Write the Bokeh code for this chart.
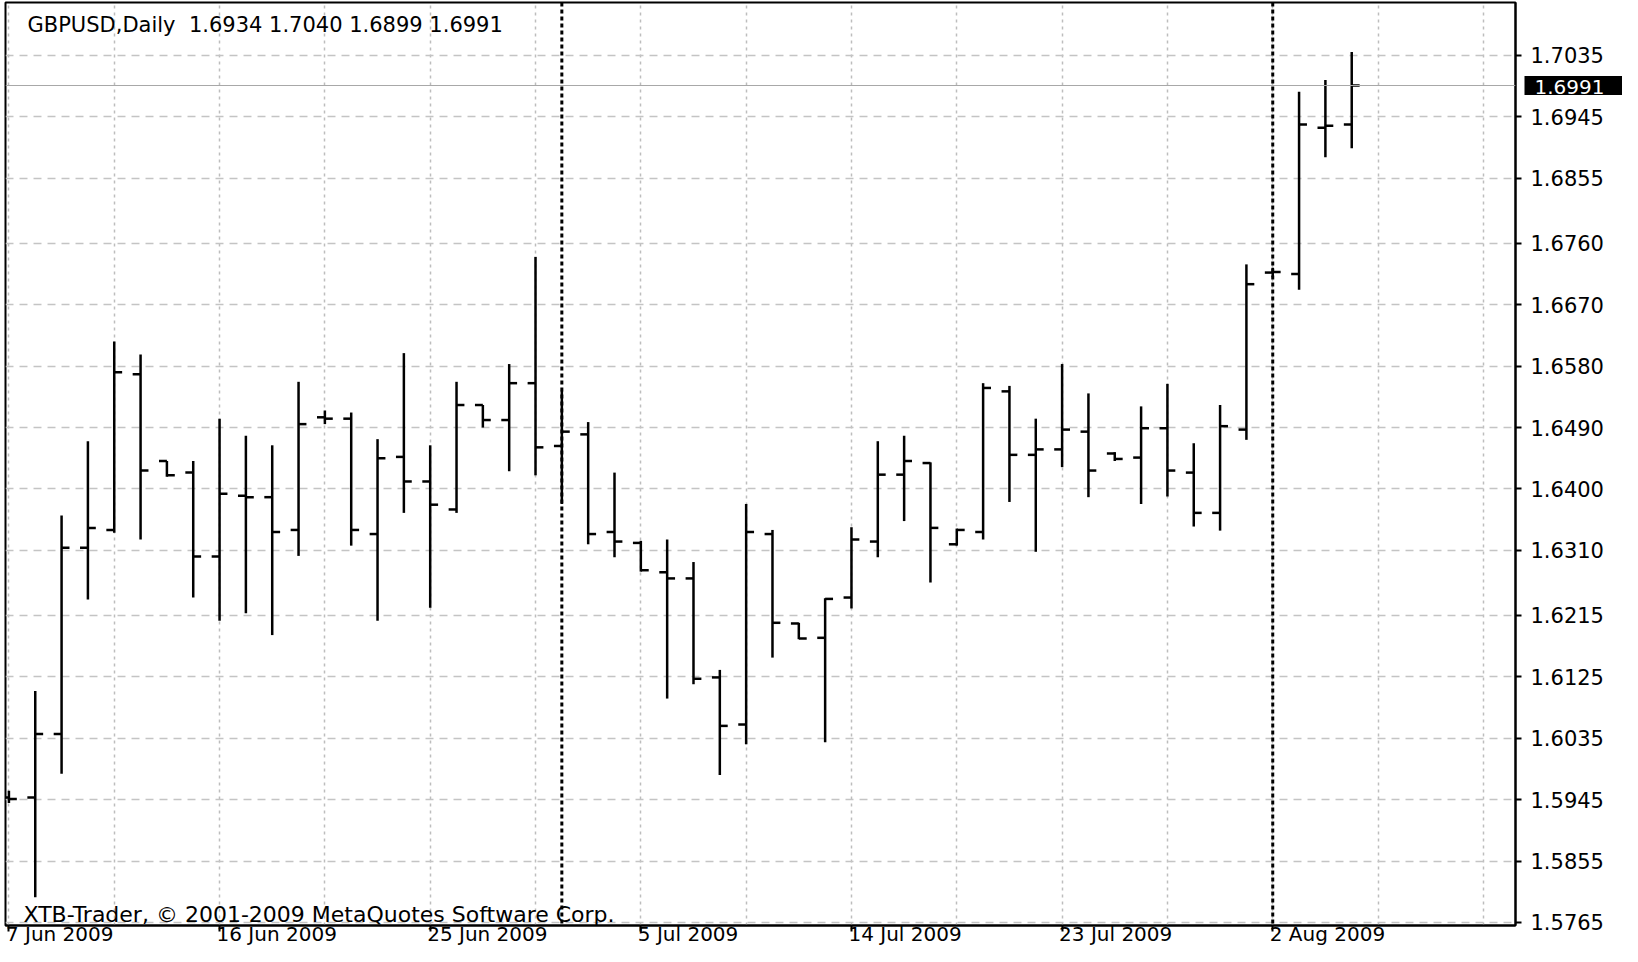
from datetime import date, timedelta

from bokeh.plotting import figure
from bokeh.models import (Range1d, FixedTicker, PrintfTickFormatter, Span, Label,
                          ColumnDataSource, GridBox)
from bokeh.core.properties import value
from bokeh.embed import file_html
from bokeh.resources import INLINE

# ---------------- data ----------------
symbol = "GBPUSD"
timeframe = "Daily"
first_day = date(2009, 6, 7)          # bars are Sunday..Friday (no Saturday)

opens = [1.5948, 1.5948, 1.6041, 1.6314, 1.6340, 1.6568, 1.6441, 1.6424, 1.6301, 1.6390,
         1.6388, 1.6340, 1.6505, 1.6503, 1.6334, 1.6447, 1.6411, 1.6370, 1.6523, 1.6501,
         1.6555, 1.6463, 1.6480, 1.6337, 1.6321, 1.6278, 1.6269, 1.6124, 1.6055, 1.6334,
         1.6203, 1.6182, 1.6241, 1.6323, 1.6421, 1.6438, 1.6319, 1.6337, 1.6543, 1.6450,
         1.6458, 1.6484, 1.6452, 1.6446, 1.6489, 1.6424, 1.6365, 1.6487, 1.6717, 1.6715,
         1.6929, 1.6934]
highs = [1.5958, 1.6104, 1.6361, 1.6470, 1.6616, 1.6597, 1.6441, 1.6441, 1.6503, 1.6478,
         1.6464, 1.6557, 1.6515, 1.6512, 1.6473, 1.6599, 1.6464, 1.6557, 1.6523, 1.6583,
         1.6740, 1.6544, 1.6498, 1.6424, 1.6324, 1.6326, 1.6293, 1.6135, 1.6378, 1.6340,
         1.6204, 1.6240, 1.6344, 1.6470, 1.6478, 1.6439, 1.6342, 1.6555, 1.6551, 1.6503,
         1.6583, 1.6540, 1.6454, 1.6521, 1.6554, 1.6467, 1.6523, 1.6729, 1.6724, 1.6982,
         1.6999, 1.7040]
lows = [1.5940, 1.5802, 1.5983, 1.6238, 1.6336, 1.6326, 1.6418, 1.6241, 1.6207, 1.6218,
        1.6186, 1.6302, 1.6495, 1.6317, 1.6207, 1.6365, 1.6226, 1.6365, 1.6490, 1.6426,
        1.6420, 1.6378, 1.6319, 1.6300, 1.6279, 1.6093, 1.6114, 1.5981, 1.6026, 1.6153,
        1.6180, 1.6029, 1.6225, 1.6300, 1.6353, 1.6263, 1.6317, 1.6326, 1.6381, 1.6308,
        1.6432, 1.6388, 1.6441, 1.6378, 1.6389, 1.6345, 1.6339, 1.6472, 1.6710, 1.6692,
        1.6886, 1.6899]
closes = [1.5946, 1.6041, 1.6314, 1.6343, 1.6571, 1.6427, 1.6420, 1.6301, 1.6393, 1.6388,
          1.6337, 1.6495, 1.6503, 1.6340, 1.6445, 1.6411, 1.6377, 1.6523, 1.6501, 1.6555,
          1.6461, 1.6484, 1.6334, 1.6323, 1.6281, 1.6269, 1.6122, 1.6053, 1.6337, 1.6204,
          1.6181, 1.6239, 1.6326, 1.6421, 1.6441, 1.6343, 1.6340, 1.6548, 1.6450, 1.6458,
          1.6487, 1.6427, 1.6444, 1.6489, 1.6427, 1.6365, 1.6492, 1.6700, 1.6718, 1.6934,
          1.6932, 1.6991]

price_ticks = [1.5765, 1.5855, 1.5945, 1.6035, 1.6125, 1.6215, 1.6310, 1.6400, 1.6490,
               1.6580, 1.6670, 1.6760, 1.6855, 1.6945, 1.7035]
date_label_step = 8
grid_step = 4
copyright_text = "XTB-Trader, \u00a9 2001-2009 MetaQuotes Software Corp."

# trading calendar (Sunday..Friday)
dates = []
d = first_day
while len(dates) < len(opens):
    if d.weekday() != 5:
        dates.append(d)
    d += timedelta(days=1)

n = len(opens)
idx = list(range(n))
date_ticks = list(range(0, n, date_label_step))
date_texts = [f"{dates[i].day} {dates[i].strftime('%b %Y')}" for i in date_ticks]
month_starts = [i for i in range(1, n) if dates[i].month != dates[i - 1].month]

# ---------------- figure ----------------
FONT = "DejaVu Sans"
TICK = 0.3
W, H = 1622, 946
ML, MT, MR, MB = 5, 2, 107, 21
FRAME_W, FRAME_H = W - ML - MR, H - MT - MB
X0, X1 = -0.13, 57.22
Y0, Y1 = 1.57606, 1.71126

p = figure(width=W, height=H, x_range=Range1d(X0, X1), y_range=Range1d(Y0, Y1),
           output_backend="svg", toolbar_location=None, y_axis_location="right",
           min_border_left=ML, min_border_top=MT, min_border_right=MR,
           min_border_bottom=MB, background_fill_color="white",
           border_fill_color="white")
p.frame_align = False
p.outline_line_color = "black"
p.outline_line_width = 2
p.outline_line_alpha = 1.0

# y axis (right)
ya = p.yaxis[0]
ya.ticker = FixedTicker(ticks=price_ticks)
ya.formatter = PrintfTickFormatter(format="%.4f")
ya.major_label_text_font = FONT
ya.major_label_text_font_size = "21px"
ya.major_label_text_color = "black"
ya.major_label_standoff = 9
ya.major_tick_out = 6
ya.major_tick_in = 0
ya.major_tick_line_width = 2
ya.major_tick_line_color = "black"
ya.minor_tick_line_color = None
ya.axis_line_width = 2
ya.axis_line_color = "black"

# x axis (below): tick marks only; the dates are written left-aligned below
xa = p.xaxis[0]
xa.ticker = FixedTicker(ticks=date_ticks)
xa.major_label_text_font_size = "1px"
xa.major_label_text_color = None
xa.major_label_standoff = 0
xa.major_tick_out = 6
xa.major_tick_in = 0
xa.major_tick_line_width = 2
xa.major_tick_line_color = "black"
xa.minor_tick_line_color = None
xa.axis_line_width = 2
xa.axis_line_color = "black"

# grids
p.xgrid.ticker = FixedTicker(ticks=list(range(0, 57, grid_step)))
p.xgrid.grid_line_color = "#bdbdbd"
p.xgrid.grid_line_dash = "3 4"
p.xgrid.grid_line_width = 1.5
p.ygrid.grid_line_color = "#c4c4c4"
p.ygrid.grid_line_dash = "8 6"
p.ygrid.grid_line_width = 1.5

# month separators and current price line
for m in month_starts:
    p.add_layout(Span(location=m, dimension="height", line_color="black",
                      line_dash="4 3", line_width=3))
p.add_layout(Span(location=closes[-1], dimension="width", line_color="#a8a8a8",
                  line_width=1))

# OHLC bars
src = ColumnDataSource(dict(
    x=idx, o=opens, h=highs, l=lows, c=closes,
    xl=[i - TICK for i in idx], xr=[i + TICK for i in idx]))
p.segment(x0="x", y0="l", x1="x", y1="h", source=src, line_color="black", line_width=2.5)
p.segment(x0="xl", y0="o", x1="x", y1="o", source=src, line_color="black", line_width=2.5)
p.segment(x0="x", y0="c", x1="xr", y1="c", source=src, line_color="black", line_width=2.5)

# header text
header = (f"{symbol},{timeframe}\u00a0 {opens[-1]:.4f} {highs[-1]:.4f} "
          f"{lows[-1]:.4f} {closes[-1]:.4f}")
p.add_layout(Label(x=22, y=FRAME_H - 22, x_units="screen", y_units="screen",
                   text=header, text_font=FONT, text_font_size="21px",
                   text_color="black", text_baseline="alphabetic", text_align="left"))

# copyright text
p.add_layout(Label(x=18, y=11, x_units="screen", y_units="screen",
                   text=copyright_text, text_font=FONT, text_font_size="22px",
                   text_color="black", text_baseline="middle", text_align="left"))

# ---------------- overlay (same scales, covering the whole canvas) ----------------
ppx = FRAME_W / (X1 - X0)      # pixels per bar
ppy = FRAME_H / (Y1 - Y0)      # pixels per price unit
ov = figure(width=W, height=H,
            x_range=Range1d(X0 - ML / ppx, X1 + MR / ppx),
            y_range=Range1d(Y0 - MB / ppy, Y1 + MT / ppy),
            output_backend="svg", toolbar_location=None,
            x_axis_location=None, y_axis_location=None,
            min_border_left=0, min_border_right=0, min_border_top=0,
            min_border_bottom=0, outline_line_color=None,
            background_fill_alpha=0, border_fill_alpha=0)
ov.frame_align = False
ov.xgrid.visible = False
ov.ygrid.visible = False

# date labels, left aligned at their tick, below the frame
ov.text(x=date_ticks, y=[Y0] * len(date_ticks), text=date_texts,
        text_font=value(FONT), text_font_size=value("20px"), text_color="black",
        text_align="left", text_baseline="middle", x_offset=-3, y_offset=8)

# current price box on the price scale
last = closes[-1]
ov.quad(left=[X1 + 9 / ppx], right=[X1 + MR / ppx], bottom=[last - 9.5 / ppy],
        top=[last + 9.5 / ppy], fill_color="black", line_color=None)
ov.text(x=[X1], y=[last], text=[f"{last:.4f}"], text_font=value(FONT),
        text_font_size=value("20px"), text_color="white", text_align="left",
        text_baseline="middle", x_offset=19, y_offset=1)

layout = GridBox(children=[(p, 0, 0), (ov, 0, 0)])
open("out.html", "w").write(file_html(layout, INLINE))
